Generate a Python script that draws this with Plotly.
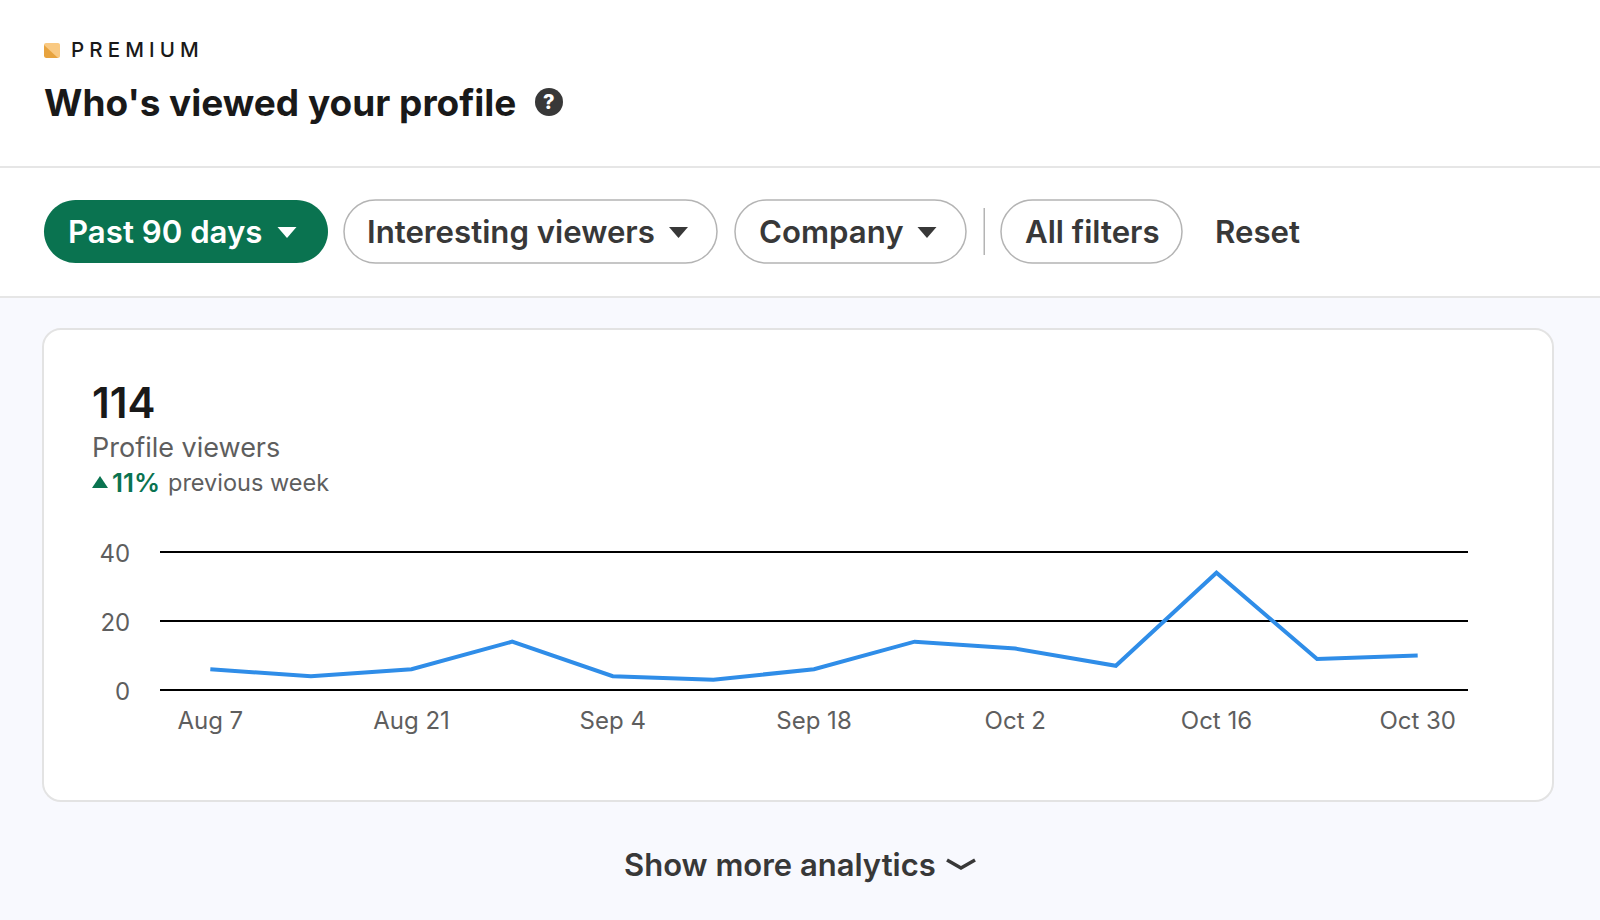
import plotly.graph_objs as go

W = 1600
H = 920

# Chart data
weeks = ['Aug 7', 'Aug 14', 'Aug 21', 'Aug 28', 'Sep 4', 'Sep 11', 'Sep 18',
         'Sep 25', 'Oct 2', 'Oct 9', 'Oct 16', 'Oct 23', 'Oct 30']
profile_viewers = [6, 4, 6, 14, 4, 3, 6, 14, 12, 7, 34, 9, 10]
x_tick_labels = ['Aug 7', 'Aug 21', 'Sep 4', 'Sep 18', 'Oct 2', 'Oct 16', 'Oct 30']
y_tick_values = [0, 20, 40]

FONT = 'Inter'
GREEN = '#0a7350'
DARK = '#383838'
GREY = '#5e5e5e'
BORDER = '#b4b4b4'
LIGHT_LINE = '#e6e6e6'


def fx(x):
    return x / W


def fy(y):
    return 1 - y / H


def rounded_path(x0, y0, x1, y1, r):
    # Rounded rectangle in paper coordinates, built from pixel positions
    k = r * 0.45
    pts = [
        ('M', x0 + r, y0),
        ('L', x1 - r, y0),
        ('C', x1 - k, y0, x1, y0 + k, x1, y0 + r),
        ('L', x1, y1 - r),
        ('C', x1, y1 - k, x1 - k, y1, x1 - r, y1),
        ('L', x0 + r, y1),
        ('C', x0 + k, y1, x0, y1 - k, x0, y1 - r),
        ('L', x0, y0 + r),
        ('C', x0, y0 + k, x0 + k, y0, x0 + r, y0),
    ]
    return poly_path(pts) + ' Z'


def poly_path(pts):
    parts = []
    for p in pts:
        coords = []
        for i, v in enumerate(p[1:]):
            coords.append(f'{fx(v):.5f}' if i % 2 == 0 else f'{fy(v):.5f}')
        parts.append(p[0] + ' ' + ' '.join(coords))
    return ' '.join(parts)


def rect(x0, y0, x1, y1, color):
    return dict(type='rect', xref='paper', yref='paper', layer='below',
                x0=fx(x0), x1=fx(x1), y0=fy(y0), y1=fy(y1),
                fillcolor=color, line=dict(width=0))


def path(d, fill=None, line_color=None, line_width=0):
    return dict(type='path', xref='paper', yref='paper', layer='below', path=d,
                fillcolor=fill if fill else 'rgba(0,0,0,0)',
                line=dict(color=line_color if line_color else 'rgba(0,0,0,0)', width=line_width))


def triangle(cx, cy, w, h, color, up=False):
    if up:
        pts = [('M', cx - w / 2, cy + h / 2), ('L', cx + w / 2, cy + h / 2), ('L', cx, cy - h / 2)]
    else:
        pts = [('M', cx - w / 2, cy - h / 2), ('L', cx + w / 2, cy - h / 2), ('L', cx, cy + h / 2)]
    return path(poly_path(pts) + ' Z', fill=color)


def label(x, y, text, size, color, weight=400, anchor='left'):
    return dict(xref='paper', yref='paper', x=fx(x), y=fy(y), text=text, showarrow=False,
                xanchor=anchor, yanchor='middle', borderpad=0,
                font=dict(family=FONT, size=size, color=color, weight=weight))


shapes = [
    # Page header and card
    rect(0, 0, W, 297, '#ffffff'),
    rect(0, 166, W, 168, LIGHT_LINE),
    rect(0, 296, W, 298, LIGHT_LINE),
    path(rounded_path(43, 329, 1553, 801, 18), fill='#ffffff', line_color='#e3e3e3', line_width=2),
    # Premium badge
    path(rounded_path(44, 43, 60, 58, 2), fill='#f9c982'),
    path(poly_path([('M', 44, 45), ('L', 58, 58), ('L', 46, 58), ('L', 44, 56)]) + ' Z', fill='#e7a33e'),
    # Help icon
    dict(type='circle', xref='paper', yref='paper', layer='below',
         x0=fx(535), x1=fx(563), y0=fy(88), y1=fy(116), fillcolor=DARK, line=dict(width=0)),
    # Filter pills
    path(rounded_path(44, 200, 328, 263, 31.5), fill=GREEN),
    path(rounded_path(344, 200, 717, 263, 31.5), fill='#ffffff', line_color=BORDER, line_width=1.5),
    path(rounded_path(735, 200, 966, 263, 31.5), fill='#ffffff', line_color=BORDER, line_width=1.5),
    rect(983.5, 208, 985, 255, BORDER),
    path(rounded_path(1001, 200, 1182, 263, 31.5), fill='#ffffff', line_color=BORDER, line_width=1.5),
    triangle(287, 232.5, 19, 11, '#ffffff'),
    triangle(678.5, 232.5, 19, 11, DARK),
    triangle(927, 232.5, 19, 11, DARK),
    triangle(100, 482, 16, 12, GREEN, up=True),
    # Chevron next to "Show more analytics"
    path(poly_path([('M', 947, 860), ('L', 961, 868), ('L', 975, 860)]), line_color=DARK, line_width=3.5),
]

annotations = [
    label(70, 49.5, 'P\u2005R\u2005E\u2005M\u2005I\u2005U\u2005M', 20.5, '#191919', 500),
    label(43, 103, "Who's viewed your profile", 37, '#191919', 650),
    label(549, 102, '?', 20, '#ffffff', 800, anchor='center'),
    label(67, 232, 'Past 90 days', 31.2, '#ffffff', 600),
    label(366, 232, 'Interesting viewers', 31.2, DARK, 600),
    label(758, 232, 'Company', 31.2, DARK, 600),
    label(1024, 232, 'All filters', 31.2, DARK, 600),
    label(1214, 232, 'Reset', 31.2, DARK, 600),
    label(91, 402, '114', 42, '#191919', 600),
    label(91, 447, 'Profile viewers', 27, GREY),
    label(111, 482, '11%', 26, GREEN, 600),
    label(167, 482, 'previous week', 23.5, GREY),
    label(780, 864, 'Show more analytics', 31, DARK, 600, anchor='center'),
]

fig = go.Figure()

fig.add_trace(go.Scatter(
    x=weeks,
    y=profile_viewers,
    mode='lines',
    name='Profile viewers',
    line=dict(color='#2f8de8', width=4),
    hoverinfo='x+y'
))

fig.update_layout(
    width=W,
    height=H,
    margin=dict(l=0, r=0, t=0, b=0, autoexpand=False),
    paper_bgcolor='#f8f9fe',
    plot_bgcolor='rgba(0,0,0,0)',
    showlegend=False,
    shapes=shapes,
    annotations=annotations,
    font=dict(family=FONT, color=GREY),
    xaxis=dict(
        domain=[fx(160), fx(1468)],
        type='category',
        categoryorder='array',
        categoryarray=weeks,
        range=[-0.5, 12.5],
        tickmode='array',
        tickvals=x_tick_labels,
        ticktext=x_tick_labels,
        ticks='outside',
        ticklen=7,
        tickcolor='rgba(0,0,0,0)',
        tickfont=dict(family=FONT, size=24, color=GREY),
        showgrid=False,
        showline=False,
        zeroline=False,
    ),
    yaxis=dict(
        # range runs a little past 0 and 40 so plotly keeps the end gridlines
        domain=[fy(691.7), fy(550.3)],
        range=[-0.5, 40.5],
        tickmode='array',
        tickvals=y_tick_values,
        ticks='outside',
        ticklen=24,
        tickcolor='rgba(0,0,0,0)',
        tickfont=dict(family=FONT, size=24, color=GREY),
        ticklabelshift=2,
        showgrid=True,
        gridcolor='#000000',
        gridwidth=1.5,
        zeroline=False,
        showline=False,
    ),
)

fig.write_html('out.html', config=dict(displayModeBar=False), post_script="document.body.style.margin='0';")
